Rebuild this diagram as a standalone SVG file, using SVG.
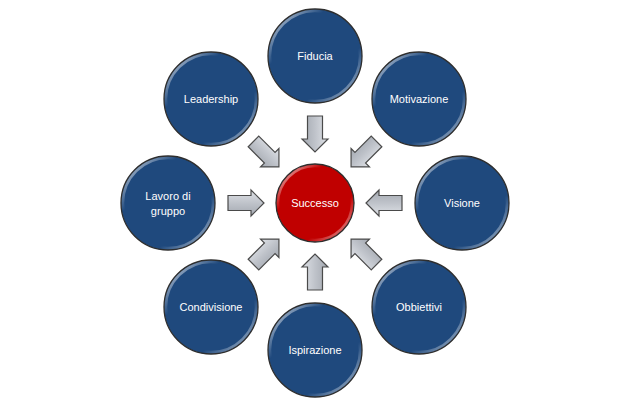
<svg xmlns="http://www.w3.org/2000/svg" width="618" height="410" viewBox="0 0 618 410">
  <defs>
    <linearGradient id="rim" x1="0" y1="0" x2="1" y2="1">
      <stop offset="0" stop-color="#ffffff" stop-opacity="0.85"/>
      <stop offset="0.3" stop-color="#ffffff" stop-opacity="0"/>
      <stop offset="0.7" stop-color="#ffffff" stop-opacity="0"/>
      <stop offset="1" stop-color="#ffffff" stop-opacity="0.7"/>
    </linearGradient>
    <linearGradient id="arrowFill" x1="0" y1="0" x2="0" y2="1">
      <stop offset="0" stop-color="#dfe2e7"/>
      <stop offset="0.5" stop-color="#bfc3ca"/>
      <stop offset="1" stop-color="#a3a8b0"/>
    </linearGradient>
    <path id="arr" d="M-18,-7.5 L5,-7.5 L5,-13 L18,0 L5,13 L5,7.5 L-18,7.5 Z"/>
  </defs>
  <style>
    .outer { fill: #1f497d; stroke: #2e2e2e; stroke-width: 1.3; }
    .center { fill: #c00000; stroke: #2e2e2e; stroke-width: 1.3; }
    .rim { fill: none; stroke: url(#rim); stroke-width: 2.5; }
    .lbl { font-family: "Liberation Sans", Arial, sans-serif; font-size: 11px; fill: #ffffff; text-anchor: middle; }
    .arrow { fill: url(#arrowFill); stroke: #4a4a4a; stroke-width: 1.2; stroke-linejoin: miter; }
  </style>
  <rect width="618" height="410" fill="#ffffff"/>

  <g id="connectors">
    <use href="#arr" class="arrow" transform="translate(315,134) rotate(90)"/>
    <use href="#arr" class="arrow" transform="translate(363.8,154.2) rotate(135)"/>
    <use href="#arr" class="arrow" transform="translate(384,203) rotate(180)"/>
    <use href="#arr" class="arrow" transform="translate(363.8,251.8) rotate(225)"/>
    <use href="#arr" class="arrow" transform="translate(315,272) rotate(270)"/>
    <use href="#arr" class="arrow" transform="translate(266.2,251.8) rotate(315)"/>
    <use href="#arr" class="arrow" transform="translate(246,203) rotate(0)"/>
    <use href="#arr" class="arrow" transform="translate(266.2,154.2) rotate(45)"/>
  </g>

  <g id="node-successo">
    <circle class="center" cx="315" cy="203" r="39"/>
    <circle class="rim" cx="315" cy="203" r="37"/>
    <text class="lbl" x="315" y="207">Successo</text>
  </g>
  <g id="node-fiducia">
    <circle class="outer" cx="315" cy="56" r="47"/>
    <circle class="rim" cx="315" cy="56" r="45"/>
    <text class="lbl" x="315" y="60">Fiducia</text>
  </g>
  <g id="node-motivazione">
    <circle class="outer" cx="419" cy="99" r="47"/>
    <circle class="rim" cx="419" cy="99" r="45"/>
    <text class="lbl" x="419" y="103">Motivazione</text>
  </g>
  <g id="node-visione">
    <circle class="outer" cx="462" cy="203" r="47"/>
    <circle class="rim" cx="462" cy="203" r="45"/>
    <text class="lbl" x="462" y="207">Visione</text>
  </g>
  <g id="node-obbiettivi">
    <circle class="outer" cx="419" cy="307" r="47"/>
    <circle class="rim" cx="419" cy="307" r="45"/>
    <text class="lbl" x="419" y="311">Obbiettivi</text>
  </g>
  <g id="node-ispirazione">
    <circle class="outer" cx="315" cy="350" r="47"/>
    <circle class="rim" cx="315" cy="350" r="45"/>
    <text class="lbl" x="315" y="354">Ispirazione</text>
  </g>
  <g id="node-condivisione">
    <circle class="outer" cx="211" cy="307" r="47"/>
    <circle class="rim" cx="211" cy="307" r="45"/>
    <text class="lbl" x="211" y="311">Condivisione</text>
  </g>
  <g id="node-lavoro">
    <circle class="outer" cx="168" cy="203" r="47"/>
    <circle class="rim" cx="168" cy="203" r="45"/>
    <text class="lbl" x="168" y="200">Lavoro di</text>
    <text class="lbl" x="168" y="215">gruppo</text>
  </g>
  <g id="node-leadership">
    <circle class="outer" cx="211" cy="99" r="47"/>
    <circle class="rim" cx="211" cy="99" r="45"/>
    <text class="lbl" x="211" y="103">Leadership</text>
  </g>
</svg>
